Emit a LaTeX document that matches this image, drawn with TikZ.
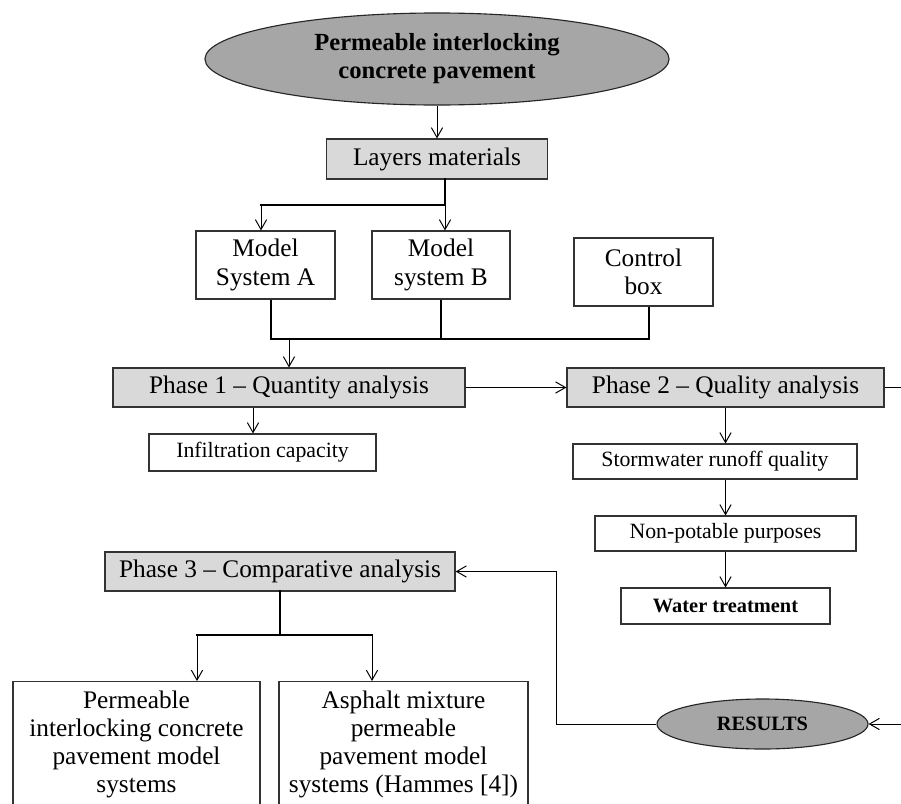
\documentclass[tikz,border=0pt]{standalone}
\usepackage{fontspec}
\setmainfont{Liberation Serif}
\usetikzlibrary{shapes.geometric,arrows.meta}

\begin{document}
\begin{tikzpicture}[x=0.025cm,y=-0.025cm,
    box/.style={draw=black!80,line width=0.8pt,inner sep=0pt,align=center,font=\fontsize{18}{20}\selectfont},
    graybox/.style={box,fill=black!15},
    smallbox/.style={box,font=\fontsize{15.5}{18}\selectfont},
    oval/.style={ellipse,draw=black!85,line width=0.8pt,fill=black!35,inner sep=0pt,align=center},
    arr/.style={-{Straight Barb[length=7pt,width=8pt]},line width=0.7pt},
    bus/.style={line width=1.6pt,line cap=rect},
    link/.style={line width=1pt}]

    \useasboundingbox (0,0) rectangle (901,803);
    \clip (0,0) rectangle (901,803);

    \node[oval,minimum width=11.6cm,minimum height=2.3cm,font=\bfseries\fontsize{17.5}{20}\selectfont] (pice) at (437,59) {Permeable interlocking\\concrete pavement};
    \node[graybox,minimum width=5.525cm,minimum height=1cm] (layers) at (437,159) {Layers materials};

    \node[box,minimum width=3.475cm,minimum height=1.7cm] (modela) at (265.5,265) {Model\\System A};
    \node[box,minimum width=3.45cm,minimum height=1.7cm] (modelb) at (441,265) {Model\\system B};
    \node[box,minimum width=3.475cm,minimum height=1.7cm] (control) at (643.5,272) {Control\\box};

    \node[graybox,minimum width=8.8cm,minimum height=0.975cm] (phase1) at (289,387.5) {Phase 1 -- Quantity analysis};
    \node[graybox,minimum width=7.925cm,minimum height=0.975cm] (phase2) at (725.5,387.5) {Phase 2 -- Quality analysis};
    \node[smallbox,minimum width=5.675cm,minimum height=0.925cm] (infil) at (262.5,452.5) {Infiltration capacity};

    \node[smallbox,minimum width=7.1cm,minimum height=0.875cm] (storm) at (715,461.5) {Stormwater runoff quality};
    \node[smallbox,minimum width=6.525cm,minimum height=0.875cm] (nonpot) at (725.5,533.5) {Non-potable purposes};
    \node[smallbox,minimum width=5.225cm,minimum height=0.9cm,font=\bfseries\fontsize{14.5}{17}\selectfont] (water) at (725.5,606) {Water treatment};

    \node[graybox,minimum width=8.75cm,minimum height=0.975cm] (phase3) at (280,571.5) {Phase 3 -- Comparative analysis};
    \node[oval,minimum width=5.275cm,minimum height=1.25cm,font=\bfseries\fontsize{14.5}{17}\selectfont] (results) at (762.5,724) {RESULTS};

    \node[box,anchor=north,minimum width=6.175cm,minimum height=3.15cm] (picms) at (136.5,681) {Permeable\\interlocking concrete\\pavement model\\systems};
    \node[box,anchor=north,minimum width=6.225cm,minimum height=3.15cm] (ampms) at (403.5,681) {Asphalt mixture\\permeable\\pavement model\\systems (Hammes [4])};

    \draw[arr] (pice) -- (layers);

    \coordinate (splita) at (261,205);
    \coordinate (splitb) at (445,205);
    \draw[bus] (layers.south -| splitb) -- (splitb) -- (splita);
    \draw[arr] (splita) -- (splita |- modela.north);
    \draw[arr] (splitb) -- (splitb |- modelb.north);

    \coordinate (joina) at (271,339);
    \coordinate (joinc) at (649,339);
    \draw[link] (modela.south -| joina) -- (joina);
    \draw[link] (modelb.south) -- (modelb.south |- joina);
    \draw[link] (control.south -| joinc) -- (joinc);
    \draw[bus] (joina) -- (joinc);
    \draw[arr] (phase1.north |- joina) -- (phase1.north);

    \draw[arr] (phase1) -- (phase2);
    \coordinate (tap1) at (253,0);
    \draw[arr] (phase1.south -| tap1) -- (infil.north -| tap1);

    \draw[arr] (phase2.south) -- (phase2.south |- storm.north);
    \draw[arr] (nonpot.north |- storm.south) -- (nonpot.north);
    \draw[arr] (nonpot) -- (water);

    \coordinate (rim) at (915,0);
    \draw[arr] (phase2.east) -- (phase2.east -| rim) |- (results.east);
    \coordinate (back) at (556,0);
    \draw[arr] (results.west) -- (results.west -| back) |- (phase3.east);

    \coordinate (split3) at (280,635);
    \coordinate (split3a) at (197,635);
    \coordinate (split3b) at (372,635);
    \draw[bus] (phase3.south) -- (split3);
    \draw[bus] (split3a) -- (split3b);
    \draw[arr] (split3a) -- (split3a |- picms.north);
    \draw[arr] (split3b) -- (split3b |- ampms.north);

\end{tikzpicture}
\end{document}
